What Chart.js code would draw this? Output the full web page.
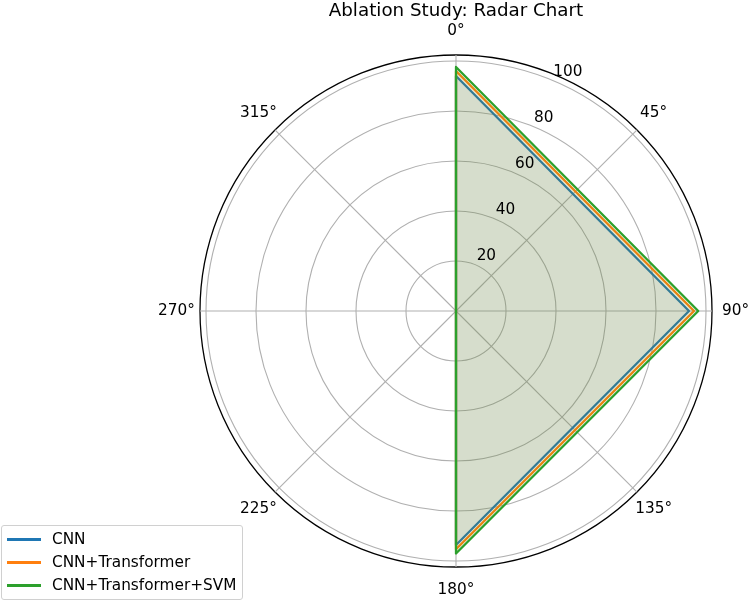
<!DOCTYPE html>
<html>
<head>
<meta charset="utf-8">
<script src="https://cdn.jsdelivr.net/npm/chart.js@4.4.1/dist/chart.umd.min.js"></script>
<style>
  html, body { margin: 0; padding: 0; background: #fff; }
  #wrap { position: relative; width: 749px; height: 603px; }
  #legend {
    position: absolute; left: 1px; top: 525px; width: 242px; height: 75px;
    box-sizing: border-box; border: 1px solid #d0d0d0; border-radius: 3px;
    background: rgba(255,255,255,0.8); font: 15.3px "DejaVu Sans"; color: #000;
  }
  .row { position: absolute; left: 0; height: 20px; width: 100%; }
  .swatch { position: absolute; left: 5px; top: 9px; width: 34px; height: 2.3px; }
  .text { position: absolute; left: 50px; top: 0; line-height: 20px; white-space: nowrap; }
</style>
</head>
<body>
<div id="wrap">
  <canvas id="radar" width="749" height="603"></canvas>
  <div id="legend"></div>
</div>
<script>
// angle labels around the polar axis (clockwise from top)
const angleLabels = ["0°", "45°", "90°", "135°", "180°", "225°", "270°", "315°"];
// angles where the three metrics sit
const metricAngles = ["0°", "90°", "180°"];

const seriesNames = ["CNN", "CNN+Transformer", "CNN+Transformer+SVM"];
const cnn = [94, 93.2, 93.6];
const cnnTransformer = [96, 95.2, 95.3];
const cnnTransformerSvm = [97.6, 96.9, 97];

const seriesColors = ["#1f77b4", "#ff7f0e", "#2ca02c"];
const seriesFills = ["rgba(31,119,180,0.1)", "rgba(255,127,14,0.1)", "rgba(44,160,44,0.1)"];

const radialTicks = [0, 20, 40, 60, 80, 100];
const rMax = 102.4;

Chart.defaults.font.family = '"DejaVu Sans"';
Chart.defaults.color = "#000";

// spread 3 metric values onto the 8 angle slots (gaps elsewhere)
function toSlots(values) {
    return angleLabels.map(lab => {
        const i = metricAngles.indexOf(lab);
        return i >= 0 ? values[i] : null;
    });
}

const allSeries = [cnn, cnnTransformer, cnnTransformerSvm];

// === texts drawn like matplotlib: theta labels centred outside, r labels at 22.5° ===
const polarText = {
    id: "polarText",
    afterDraw(chart) {
        const r = chart.scales.r;
        const ctx = chart.ctx;
        ctx.save();
        ctx.fillStyle = "#000";
        ctx.font = '15.3px "DejaVu Sans"';
        ctx.textAlign = "center";
        ctx.textBaseline = "middle";
        angleLabels.forEach((lab, i) => {
            const p = r.getPointPosition(i, r.drawingArea + 23.5);
            ctx.fillText(lab, p.x, p.y);
        });
        ctx.textAlign = "left";
        radialTicks.slice(1).forEach(v => {
            const p = r.getPointPositionForValue(0.5, v);
            ctx.fillText(String(v), p.x + 1.5, p.y - 8.3);
        });
        ctx.restore();
    }
};

new Chart(document.getElementById("radar"), {
    type: "radar",
    data: {
        labels: angleLabels,
        datasets: allSeries.map((vals, i) => ({
            label: seriesNames[i],
            data: toSlots(vals),
            borderColor: seriesColors[i],
            backgroundColor: seriesFills[i],
            borderWidth: 2.3,
            borderJoinStyle: "round",
            fill: true,
            spanGaps: true,
            pointRadius: 0,
            pointHoverRadius: 0,
            order: allSeries.length - i
        }))
    },
    options: {
        responsive: false,
        animation: false,
        layout: { padding: { left: 200, right: 37, top: 0, bottom: 36 } },
        plugins: {
            legend: { display: false },
            tooltip: { enabled: false },
            title: {
                display: true,
                text: "Ablation Study: Radar Chart",
                color: "#000",
                font: { size: 18.3, weight: "normal" },
                padding: { top: 0, bottom: 33.04 }
            }
        },
        scales: {
            r: {
                min: 0,
                max: rMax,
                startAngle: 0,
                afterBuildTicks: scale => {
                    scale.ticks = radialTicks.concat([rMax]).map(v => ({ value: v }));
                },
                ticks: { display: false },
                pointLabels: { display: false },
                grid: {
                    circular: true,
                    color: c => (c.tick && c.tick.value === rMax ? "#000" : "#b0b0b0"),
                    lineWidth: c => (c.tick && c.tick.value === rMax ? 1.3 : 1.1)
                },
                angleLines: { color: "#b0b0b0", lineWidth: 1.1 }
            }
        }
    },
    plugins: [polarText]
});

// === legend box (lower left, like matplotlib) ===
const legend = document.getElementById("legend");
seriesNames.forEach((name, i) => {
    const row = document.createElement("div");
    row.className = "row";
    row.style.top = (3.3 + i * 23) + "px";
    row.innerHTML = `<span class="swatch" style="background:${seriesColors[i]}"></span><span class="text">${name}</span>`;
    legend.appendChild(row);
});
</script>
</body>
</html>
